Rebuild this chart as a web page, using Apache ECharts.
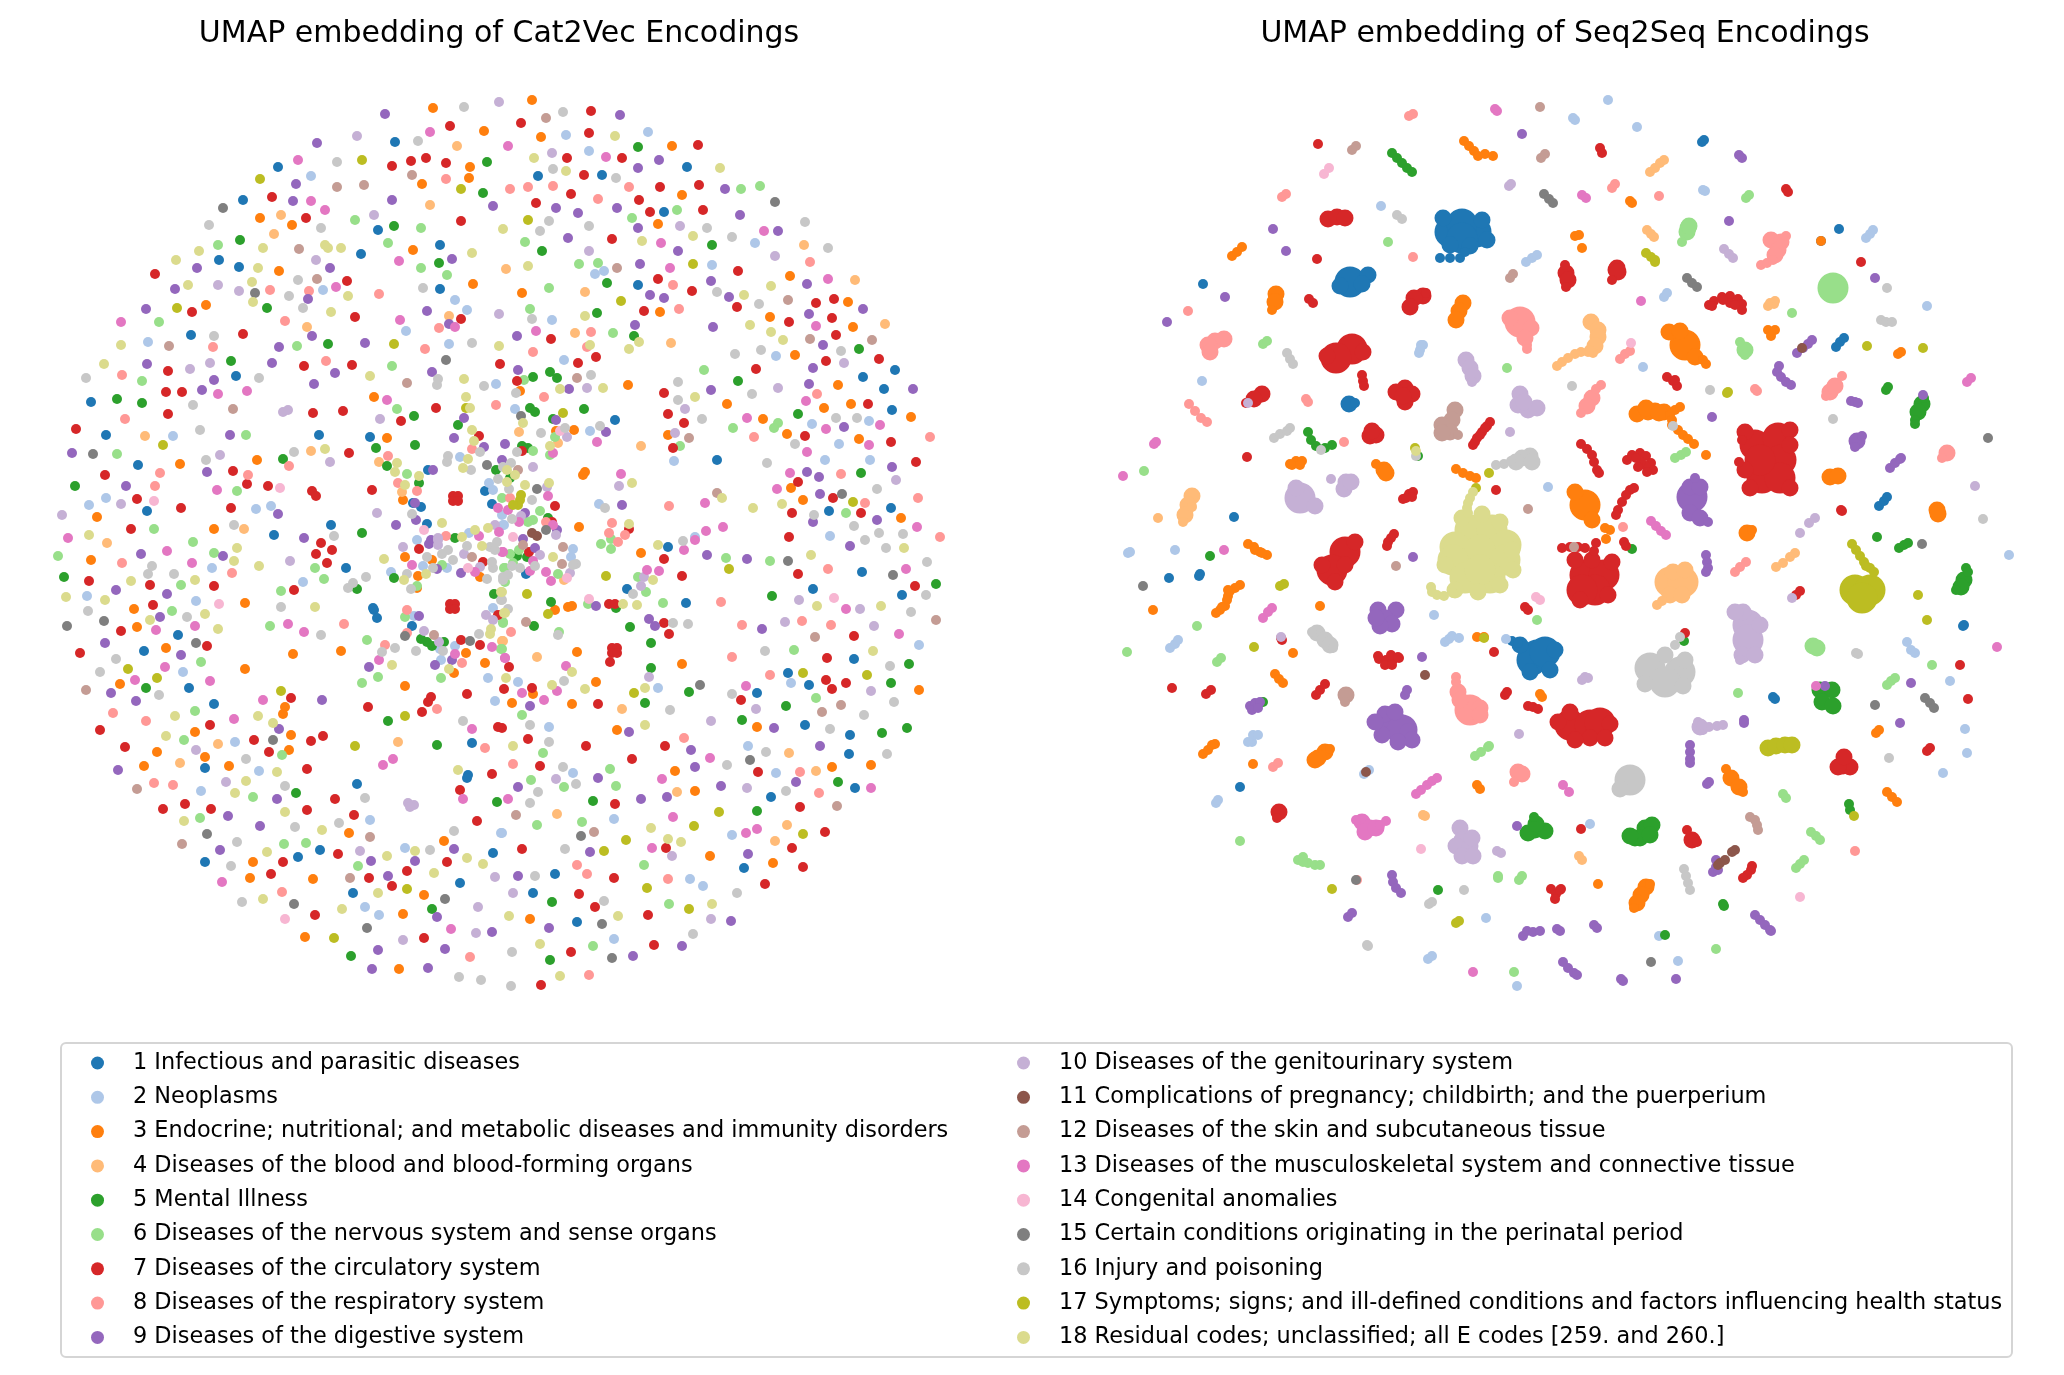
<!DOCTYPE html>
<html>
<head>
<meta charset="utf-8">
<title>UMAP embeddings</title>
<script src="https://cdn.jsdelivr.net/npm/echarts@6/dist/echarts.min.js"></script>
<style>
html, body { margin: 0; background: #fff; }
#main { width: 2064px; height: 1375px; }
</style>
</head>
<body>
<div id="main"></div>
<script>
const categories = [
  "1 Infectious and parasitic diseases",
  "2 Neoplasms",
  "3 Endocrine; nutritional; and metabolic diseases and immunity disorders",
  "4 Diseases of the blood and blood-forming organs",
  "5 Mental Illness",
  "6 Diseases of the nervous system and sense organs",
  "7 Diseases of the circulatory system",
  "8 Diseases of the respiratory system",
  "9 Diseases of the digestive system",
  "10 Diseases of the genitourinary system",
  "11 Complications of pregnancy; childbirth; and the puerperium",
  "12 Diseases of the skin and subcutaneous tissue",
  "13 Diseases of the musculoskeletal system and connective tissue",
  "14 Congenital anomalies",
  "15 Certain conditions originating in the perinatal period",
  "16 Injury and poisoning",
  "17 Symptoms; signs; and ill-defined conditions and factors influencing health status",
  "18 Residual codes; unclassified; all E codes [259. and 260.]"
];
const colors = ["#1f77b4","#aec7e8","#ff7f0e","#ffbb78","#2ca02c","#98df8a","#d62728","#ff9896","#9467bd","#c5b0d5","#8c564b","#c49c94","#e377c2","#f7b6d2","#7f7f7f","#c7c7c7","#bcbd22","#dbdb8d"];

// [x, y, category]
const cat2vecPoints = [
[433,108,3],[464,107,16],[499,102,10],[385,114,9],[450,126,7],[484,131,3],[430,132,13],[357,136,10],[317,143,9],[395,142,1],[418,141,16],[457,146,4],[508,146,13],[298,160,13],[337,162,16],[362,160,17],[426,158,7],[411,161,7],[446,163,7],[487,162,5],[392,166,7],[470,167,3],[278,167,1],[260,179,17],[311,176,2],[412,175,12],[469,178,3],[446,179,8],[296,184,9],[337,187,12],[364,185,12],[422,184,3],[461,189,17],[510,189,8],[483,193,5],[243,200,1],[272,197,7],[293,201,9],[311,201,13],[392,200,9],[430,205,4],[493,206,9],[223,208,15],[325,210,13],[260,218,3],[281,215,4],[306,218,7],[374,215,10],[355,220,6],[461,221,7],[209,225,16],[292,225,3],[321,228,16],[378,230,1],[394,226,5],[421,228,6],[503,229,18],[274,234,4],[240,240,5],[218,245,6],[263,248,18],[299,249,12],[325,245,18],[328,248,18],[341,248,18],[388,243,6],[413,250,3],[440,245,1],[199,251,18],[361,254,1],[472,253,18],[176,260,18],[219,260,1],[316,260,10],[399,261,13],[439,263,5],[452,259,9],[197,268,9],[239,267,1],[258,268,18],[279,271,3],[330,268,9],[421,268,6],[506,269,4],[155,274,7],[447,275,6],[252,282,18],[298,280,16],[317,279,12],[347,281,7],[473,284,3],[175,289,9],[188,285,18],[218,285,10],[239,291,10],[255,293,15],[270,290,8],[309,291,8],[323,290,2],[336,287,13],[379,294,8],[423,288,16],[440,289,1],[253,302,18],[289,296,16],[308,299,9],[348,296,18],[455,300,2],[146,309,9],[177,308,17],[206,305,3],[192,312,7],[267,308,5],[303,308,16],[331,312,18],[427,311,9],[467,310,2],[499,314,10],[121,322,13],[159,322,6],[285,321,8],[355,317,7],[400,320,13],[449,316,4],[461,319,7],[449,324,9],[455,327,13],[191,335,1],[214,336,16],[243,334,7],[307,327,4],[312,336,9],[406,331,2],[439,328,8],[121,345,18],[148,342,2],[169,346,12],[213,347,8],[279,347,9],[297,346,6],[328,344,5],[365,343,9],[394,344,17],[425,349,8],[449,344,2],[472,343,16],[499,346,18],[104,364,18],[147,364,9],[210,363,10],[231,361,5],[272,363,9],[304,366,7],[326,361,8],[352,365,7],[392,366,6],[446,360,15],[500,364,7],[86,378,16],[122,375,8],[168,371,7],[190,369,10],[142,381,6],[236,376,1],[259,378,16],[335,373,9],[370,376,18],[432,372,9],[438,379,16],[437,385,16],[464,379,18],[214,380,9],[407,383,12],[314,384,9],[484,386,16],[496,384,2],[166,392,7],[182,392,7],[202,390,9],[218,394,13],[247,391,13],[374,397,3],[466,397,18],[91,402,1],[117,399,5],[142,403,5],[193,405,16],[387,400,13],[496,405,8],[233,409,12],[283,412,10],[288,410,10],[313,413,7],[343,411,7],[436,408,7],[397,409,6],[466,408,17],[470,408,18],[168,414,7],[125,419,8],[414,416,5],[380,419,10],[464,418,9],[401,421,7],[458,425,5],[76,429,7],[200,430,16],[472,430,18],[106,435,1],[145,436,4],[173,436,2],[230,435,9],[246,435,6],[319,435,1],[370,437,1],[387,438,3],[479,436,7],[454,438,9],[474,441,18],[163,445,17],[415,445,5],[505,444,9],[72,453,9],[93,454,15],[117,454,6],[220,455,10],[294,452,16],[311,451,4],[325,449,18],[349,453,7],[376,448,5],[388,456,8],[484,447,9],[472,449,8],[480,452,16],[138,465,1],[180,464,3],[206,460,16],[257,460,3],[283,459,5],[330,462,10],[379,462,4],[397,463,18],[448,456,16],[447,462,16],[460,457,2],[468,459,18],[502,460,9],[487,465,15],[105,475,7],[160,473,8],[207,472,9],[233,471,7],[289,466,8],[387,466,5],[395,472,18],[428,470,1],[433,470,9],[463,468,18],[471,470,16],[496,470,5],[407,474,6],[248,475,8],[419,476,18],[75,486,5],[126,486,9],[155,486,8],[247,484,7],[268,486,7],[280,488,14],[398,483,8],[405,485,18],[419,483,5],[489,483,2],[498,479,16],[217,490,13],[237,491,6],[312,491,7],[316,496,7],[372,490,7],[402,492,4],[417,491,8],[453,496,7],[458,496,7],[453,501,7],[458,501,7],[485,491,1],[493,490,2],[106,498,2],[137,499,7],[89,505,2],[121,504,10],[154,501,14],[403,500,3],[502,498,6],[181,508,7],[231,508,7],[271,506,2],[413,503,1],[415,503,9],[421,507,1],[492,504,1],[498,508,13],[508,510,13],[62,515,10],[97,517,3],[147,511,1],[256,509,2],[278,514,9],[377,513,10],[412,514,16],[502,515,2],[416,520,9],[131,529,7],[154,529,6],[214,529,3],[234,525,16],[244,529,4],[331,525,1],[396,525,9],[427,524,1],[442,523,18],[362,533,5],[68,538,13],[89,535,18],[274,535,1],[304,538,9],[334,536,16],[424,530,14],[475,530,18],[488,528,18],[495,525,10],[504,525,2],[499,532,13],[469,533,2],[479,536,13],[446,536,8],[462,537,18],[455,538,5],[438,538,10],[431,540,9],[417,540,2],
[532,100,3],[591,111,7],[563,112,16],[620,115,9],[546,118,12],[521,123,7],[566,135,2],[589,133,7],[541,137,3],[615,136,18],[648,132,2],[672,146,3],[698,145,7],[638,147,5],[589,151,2],[552,153,10],[534,158,18],[567,158,7],[606,157,13],[622,158,7],[659,160,9],[638,168,9],[687,167,1],[720,168,18],[553,169,16],[566,171,18],[538,176,1],[584,175,7],[602,175,1],[616,178,16],[528,187,8],[553,186,8],[629,187,8],[660,187,7],[699,185,7],[725,189,9],[741,189,6],[760,186,6],[571,194,7],[682,195,3],[598,199,8],[639,200,7],[775,202,15],[536,203,7],[556,208,9],[578,213,9],[617,208,9],[650,212,7],[664,212,1],[677,210,6],[703,210,7],[740,215,9],[632,218,6],[528,220,17],[549,221,16],[805,222,16],[540,231,16],[589,226,16],[638,228,9],[658,224,3],[680,226,10],[707,228,16],[764,231,13],[778,231,9],[525,242,6],[568,238,9],[612,239,7],[642,241,18],[661,243,13],[693,236,18],[712,245,5],[732,237,16],[755,243,2],[804,245,4],[828,248,16],[542,251,5],[589,251,10],[678,251,9],[775,256,10],[810,262,8],[528,266,18],[579,264,6],[598,263,6],[617,268,12],[640,264,9],[670,268,13],[693,264,17],[712,265,2],[738,271,7],[595,274,2],[604,271,2],[790,276,3],[658,279,7],[855,280,4],[828,279,13],[807,284,9],[549,288,6],[607,283,5],[638,285,1],[673,285,8],[711,281,9],[771,286,18],[692,291,7],[522,293,3],[585,292,4],[650,295,9],[664,298,9],[717,292,16],[729,297,9],[744,295,18],[788,300,12],[816,303,7],[834,299,7],[848,302,3],[863,309,9],[621,301,17],[759,304,16],[737,307,7],[530,309,6],[597,313,5],[644,311,7],[660,312,3],[679,309,8],[809,314,9],[532,319,16],[552,320,2],[585,316,18],[770,317,3],[832,318,7],[789,322,7],[885,324,4],[635,325,9],[713,327,9],[750,325,18],[816,326,13],[853,327,3],[517,336,9],[536,331,13],[575,333,4],[591,332,8],[613,333,6],[634,336,5],[551,339,7],[771,332,18],[836,335,7],[639,342,18],[671,343,4],[783,340,18],[810,339,12],[872,340,12],[533,352,8],[587,347,8],[590,345,18],[629,349,18],[735,354,16],[761,350,16],[776,356,2],[795,355,3],[823,345,9],[841,351,16],[859,349,5],[564,360,2],[578,363,7],[596,357,7],[826,361,7],[844,363,10],[879,359,7],[756,369,7],[704,370,6],[813,368,9],[895,370,1],[518,370,9],[550,372,5],[533,377,5],[557,378,5],[524,380,6],[517,381,7],[591,375,16],[577,378,12],[863,377,1],[628,385,3],[678,382,16],[738,381,5],[809,384,9],[838,385,3],[884,389,1],[913,389,9],[560,389,18],[569,389,9],[587,388,10],[603,388,18],[520,391,3],[516,393,16],[544,397,8],[664,393,7],[711,390,9],[778,388,10],[817,394,8],[752,394,16],[678,400,16],[695,397,18],[806,401,13],[727,404,3],[824,408,3],[851,404,3],[868,404,7],[515,409,2],[530,408,5],[535,412,5],[563,413,17],[584,409,5],[685,409,10],[892,410,1],[521,416,15],[668,414,7],[798,414,5],[911,417,3],[523,423,18],[553,419,5],[556,420,9],[615,420,1],[684,423,7],[702,419,16],[747,418,13],[763,419,3],[778,423,6],[774,428,6],[812,424,2],[836,418,16],[857,418,16],[869,421,2],[880,425,13],[519,432,4],[541,433,16],[556,431,3],[565,428,16],[560,431,14],[574,430,3],[590,431,2],[600,426,16],[606,432,9],[675,433,10],[668,435,3],[689,438,12],[733,428,6],[826,429,13],[844,427,9],[787,434,3],[805,436,7],[754,437,8],[930,437,8],[555,437,6],[567,437,10],[558,443,4],[597,442,13],[641,446,4],[680,446,6],[673,448,7],[522,446,5],[528,448,5],[522,451,7],[517,452,16],[533,451,6],[550,446,18],[553,453,13],[550,455,6],[795,444,16],[839,444,2],[859,439,3],[869,445,13],[891,442,7],[807,452,13],[674,461,2],[717,460,1],[767,463,16],[825,460,2],[870,460,2],[916,462,7],[533,467,10],[511,463,16],[503,467,16],[518,470,12],[515,475,18],[507,470,18],[510,478,5],[585,472,3],[583,475,3],[621,474,13],[790,473,13],[807,472,9],[819,477,9],[841,474,8],[861,473,5],[892,467,9],[896,480,10],[798,482,7],[549,483,18],[507,482,18],[525,485,18],[632,483,18],[619,486,10],[777,489,13],[791,488,3],[877,489,16],[537,489,15],[509,489,16],[547,487,10],[717,493,12],[820,494,9],[842,494,15],[833,498,7],[722,498,18],[521,495,17],[520,500,17],[518,505,17],[513,505,17],[532,500,16],[548,496,13],[510,498,8],[918,498,8],[669,506,8],[705,503,13],[753,508,18],[782,504,18],[803,500,3],[853,502,17],[865,503,8],[891,508,1],[555,506,7],[599,504,2],[605,508,16],[622,505,9],[792,513,7],[814,515,16],[829,511,1],[846,513,6],[861,513,7],[901,518,3],[877,520,9],[540,511,6],[533,520,6],[528,522,6],[525,513,9],[521,516,10],[548,518,5],[813,522,9],[512,519,16],[519,522,13],[546,522,8],[553,525,13],[552,522,7],[557,530,9],[579,527,3],[612,523,8],[629,524,18],[629,529,7],[723,527,13],[706,531,13],[854,526,16],[917,527,13],[546,530,15],[503,525,2],[513,537,14],[532,533,11],[537,536,11],[523,539,9],[609,533,8],[625,535,8],[611,539,6],[556,535,10],[683,541,16],[695,537,2],[695,540,13],[789,537,7],[830,536,2],[865,540,16],[879,533,16],[903,534,16],[940,537,8],
[601,544,6],[618,542,8],[611,549,6],[641,553,3],[658,545,18],[668,547,1],[684,550,13],[664,559,7],[707,555,9],[726,558,6],[747,559,9],[770,561,6],[788,561,15],[811,555,18],[850,546,9],[886,548,16],[904,548,18],[927,562,16],[729,569,17],[798,574,7],[828,569,8],[862,572,1],[893,575,15],[906,569,13],[915,586,7],[936,584,5],[647,570,13],[659,571,13],[682,576,7],[638,577,6],[644,577,10],[653,580,18],[641,586,10],[627,589,1],[633,594,16],[646,592,6],[813,589,1],[606,576,17],[553,557,18],[563,547,12],[573,549,2],[571,557,2],[562,564,12],[576,564,16],[573,565,16],[570,573,10],[546,572,13],[558,574,6],[551,581,13],[564,580,4],[567,578,14],[533,561,13],[540,555,10],[529,552,7],[535,548,9],[517,556,5],[527,557,5],[519,550,6],[510,554,6],[503,552,13],[523,545,12],[513,563,6],[535,566,16],[520,568,16],[512,566,16],[530,571,13],[526,574,1],[505,568,6],[503,577,16],[508,575,16],[505,582,6],[527,594,17],[502,592,18],[502,600,16],[551,602,5],[555,610,3],[548,614,17],[568,607,3],[572,606,3],[589,599,14],[588,604,6],[596,606,9],[609,604,7],[615,604,7],[616,608,5],[623,604,18],[637,605,18],[663,603,6],[686,603,1],[721,602,8],[772,596,5],[799,600,10],[817,606,18],[834,598,14],[846,609,13],[860,609,10],[881,606,18],[902,595,1],[926,595,16],[911,612,16],[936,620,12],[508,609,16],[504,613,18],[503,622,6],[526,622,12],[534,626,5],[511,632,8],[559,632,6],[558,635,16],[503,641,4],[630,627,5],[649,619,9],[655,626,9],[664,623,7],[673,623,16],[688,624,16],[669,634,7],[742,625,8],[762,629,9],[785,622,10],[802,621,8],[831,625,8],[874,626,10],[899,634,13],[815,637,12],[854,636,7],[919,645,2],[651,643,5],[577,652,3],[612,648,7],[617,648,7],[612,653,7],[617,653,7],[765,651,16],[794,650,6],[873,651,18],[854,659,1],[827,658,7],[909,664,5],[890,666,16],[502,649,6],[505,658,13],[537,657,4],[610,662,7],[682,664,3],[732,657,8],[509,667,7],[566,666,13],[572,672,18],[651,668,5],[770,675,8],[788,673,1],[803,673,17],[826,680,7],[846,683,7],[867,675,17],[891,683,5],[919,690,3],[649,677,10],[506,678,18],[518,682,2],[564,681,16],[596,682,3],[552,685,18],[532,688,7],[504,689,7],[522,693,13],[533,694,3],[557,691,13],[585,689,18],[634,693,17],[645,688,18],[658,688,2],[700,685,15],[689,692,5],[746,686,13],[757,693,1],[732,694,16],[791,683,2],[809,685,1],[832,689,7],[871,691,10],[512,703,3],[544,700,13],[530,706,9],[572,704,3],[598,704,7],[645,703,5],[622,709,4],[670,710,16],[741,700,7],[756,709,10],[786,706,5],[816,698,6],[841,705,12],[822,712,12],[894,702,16],[522,715,6],[864,715,16],[711,721,10],[742,720,5],[502,728,7],[530,725,16],[549,727,2],[617,730,3],[629,732,9],[645,725,18],[757,727,3],[774,728,9],[805,725,1],[830,729,16],[850,735,1],[882,733,5],[907,728,5],[528,739,7],[549,742,16],[586,746,7],[665,746,7],[684,738,8],[691,750,9],[748,746,2],[789,753,4],[820,746,9],[849,754,1],[887,754,16],[766,752,16],[513,746,18],[543,753,6],[632,759,7],[710,758,13],[750,760,15],[513,764,8],[540,766,7],[563,767,16],[573,773,2],[610,769,6],[675,771,3],[695,767,9],[727,765,16],[758,772,7],[776,773,2],[800,772,8],[816,771,4],[832,767,3],[871,765,3],[531,780,6],[556,779,10],[576,784,16],[598,778,9],[662,779,13],[796,782,9],[838,782,5],[518,787,9],[564,787,6],[616,786,6],[721,786,9],[747,788,10],[855,788,1],[871,788,13],[538,792,16],[677,792,4],[695,791,3],[786,791,16],[819,793,8],[508,799,13],[530,803,16],[593,801,5],[641,799,9],[667,797,9],[771,797,1],[615,804,7],[800,807,7],[837,806,12],[516,815,12],[557,814,4],[614,819,2],[673,817,13],[719,812,17],[757,811,5],[537,825,6],[582,822,6],[694,826,17],[787,825,4],[502,833,2],[594,832,12],[651,828,18],[732,835,2],[746,833,13],[757,829,13],[803,834,17],[825,832,7],[581,836,15],[626,840,17],[668,839,18],[681,842,18],[775,841,4],[522,849,7],[565,849,16],[590,852,9],[604,851,17],[652,848,13],[666,848,7],[792,848,7],[672,856,10],[710,856,3],[748,854,9],[773,863,3],[577,865,8],[644,865,6],[555,874,1],[587,874,8],[744,868,1],[803,867,7],[518,876,9],[535,876,16],[614,878,7],[668,879,8],[690,879,2],[765,884,7],[513,893,10],[533,893,1],[579,894,7],[647,888,17],[703,886,2],[737,893,16],[552,902,5],[604,901,16],[595,907,7],[669,904,6],[689,909,17],[712,904,18],[509,916,18],[530,919,3],[618,916,18],[648,915,7],[711,919,10],[731,921,9],[549,928,9],[577,922,1],[602,924,15],[693,934,16],[614,939,2],[540,944,18],[593,946,6],[654,945,7],[682,946,9],[512,952,16],[571,952,7],[550,960,5],[612,958,15],[633,956,9],[560,976,18],[589,975,8],[511,986,16],[541,985,7],
[58,556,6],[91,560,3],[107,543,4],[141,554,9],[167,551,13],[122,563,8],[193,542,6],[214,553,6],[223,556,9],[237,548,18],[234,561,18],[192,563,13],[152,566,16],[148,574,16],[174,574,16],[212,568,2],[232,573,8],[259,566,18],[290,561,10],[321,543,7],[332,550,7],[316,554,7],[327,563,7],[315,568,6],[346,568,1],[64,577,5],[89,581,7],[131,581,18],[150,585,7],[181,585,6],[195,580,18],[214,586,7],[303,582,2],[324,579,6],[366,577,16],[353,583,16],[348,588,16],[357,589,5],[281,591,6],[294,590,7],[116,590,9],[167,594,9],[66,597,18],[87,596,2],[105,600,18],[196,601,2],[219,604,14],[245,603,3],[153,605,7],[134,609,3],[88,611,16],[172,611,6],[281,607,16],[315,607,18],[205,614,18],[160,617,9],[150,620,18],[187,617,16],[104,621,15],[67,626,15],[137,627,3],[121,631,7],[156,630,13],[195,626,13],[218,629,18],[270,626,6],[288,624,13],[344,624,8],[304,632,13],[321,635,16],[178,635,1],[105,643,9],[196,643,15],[207,646,7],[166,648,3],[80,653,7],[144,651,1],[181,655,9],[293,654,3],[341,651,3],[367,640,6],[116,659,16],[201,662,6],[128,669,17],[100,672,16],[165,667,13],[183,672,2],[245,669,3],[135,680,13],[157,678,17],[120,684,3],[146,688,5],[86,690,12],[111,693,9],[189,688,1],[210,681,13],[159,695,16],[136,701,9],[281,691,17],[291,698,7],[263,700,13],[322,700,9],[285,707,3],[283,714,3],[214,704,1],[113,713,8],[195,711,6],[175,716,18],[146,721,8],[234,719,13],[258,716,18],[273,723,18],[210,725,7],[100,730,7],[279,729,9],[195,732,3],[166,736,18],[184,740,6],[291,735,3],[323,736,7],[311,741,7],[254,740,7],[273,740,15],[218,744,4],[235,742,2],[125,747,7],[157,752,3],[196,750,10],[269,752,7],[289,750,3],[282,755,6],[355,746,17],[205,757,3],[180,763,4],[246,759,16],[398,742,4],[437,745,5],[118,770,9],[144,766,3],[205,768,1],[229,766,3],[259,771,2],[277,772,18],[307,769,7],[383,765,13],[393,759,13],[154,783,8],[173,785,8],[137,789,12],[226,782,10],[246,781,18],[285,786,16],[357,784,1],[201,791,2],[235,793,18],[253,797,6],[277,799,9],[296,793,5],[335,799,7],[365,798,16],[163,809,7],[185,804,7],[211,809,7],[307,810,7],[285,812,18],[354,815,7],[408,803,10],[414,805,10],[410,807,10],[200,818,6],[184,821,18],[228,816,9],[260,826,9],[295,827,16],[322,830,18],[339,823,16],[370,820,2],[349,833,3],[370,837,12],[207,834,15],[182,844,12],[237,842,16],[284,844,6],[306,843,6],[220,850,9],[267,852,18],[320,850,1],[338,854,7],[360,851,10],[387,856,18],[405,848,2],[415,851,18],[430,850,16],[298,857,1],[205,862,1],[231,866,16],[253,862,3],[283,862,7],[358,866,6],[371,861,9],[415,861,9],[447,862,7],[271,874,7],[250,878,3],[222,882,13],[313,879,3],[350,878,12],[369,878,7],[388,876,9],[407,871,7],[434,873,18],[392,886,7],[407,889,17],[460,883,1],[282,892,8],[353,893,1],[378,893,18],[424,895,3],[263,899,18],[242,902,16],[294,904,15],[445,899,15],[342,909,18],[365,907,2],[379,915,2],[403,914,3],[432,909,5],[437,917,9],[315,915,7],[285,919,14],[478,907,10],[367,928,15],[451,929,13],[305,937,3],[334,938,17],[403,940,10],[424,938,7],[476,933,10],[492,932,9],[351,956,5],[378,950,9],[445,949,9],[470,957,8],[372,969,9],[399,969,3],[428,968,9],[459,977,16],[481,980,16],[454,831,16],[444,841,3],[454,849,9],[467,858,18],[483,864,18],[493,853,1],[501,833,2],[477,821,7],[495,877,10],[492,774,7],[468,775,1],[467,778,1],[458,770,18],[460,790,7],[463,799,13],[497,802,5],[472,743,1],[485,748,8],[472,729,13],[463,721,16],[498,727,7],[495,701,2],[437,709,8],[422,712,7],[428,702,7],[431,697,7],[467,694,7],[405,716,17],[388,721,5],[368,707,7],[405,686,3],[362,683,6],[378,677,6],[369,667,9],[392,665,18],[379,660,13],[382,652,16],[385,645,8],[395,648,16],[416,651,16],[435,665,9],[441,660,2],[441,678,6],[449,669,18],[454,673,3],[462,663,8],[485,663,3],[488,678,2],[466,653,3],[455,654,13],[452,660,9],[455,646,2],[443,651,16],[440,649,2],[501,649,6],[492,647,13],[505,658,13],[502,641,4],[480,645,7],[470,641,15],[461,640,7],[479,634,16],[444,642,5],[432,646,5],[427,642,5],[421,639,5],[439,642,10],[434,635,12],[424,631,10],[405,636,15],[407,633,8],[412,626,1],[405,617,6],[407,610,8],[414,616,2],[419,616,9],[374,610,1],[377,618,1],[373,608,1],[450,604,7],[455,604,7],[450,609,7],[455,609,7],[486,615,10],[493,620,10],[498,615,7],[505,613,18],[503,623,6],[491,629,18],[490,634,18],[493,608,2],[501,592,18],[501,600,16],[494,594,5],[487,579,16],[503,580,16],[493,568,16],[492,562,16],[497,542,16],[490,547,16],[495,550,16],[504,568,6],[502,552,13],[475,572,13],[468,568,14],[461,573,9],[480,567,10],[483,562,7],[480,577,3],[464,554,10],[472,557,12],[482,546,18],[467,546,16],[453,560,16],[448,550,16],[442,554,16],[427,557,16],[433,568,16],[442,565,6],[447,568,2],[437,569,9],[423,566,2],[412,565,13],[405,557,3],[419,549,7],[403,547,10],[384,559,18],[429,544,9],[438,540,10],[438,545,10],[432,560,3],[418,576,3],[391,572,2],[394,578,5],[407,574,16],[404,580,18],[426,574,18],[417,586,6],[411,589,16],[417,588,3]
];

const seqSmall = [
[1409,116,8],[1413,114,8],[1495,109,13],[1497,111,13],[1540,107,12],[1522,134,9],[1318,144,7],[1352,150,12],[1356,146,12],[1392,153,5],[1397,158,5],[1402,163,5],[1407,168,5],[1412,172,5],[1464,141,3],[1469,146,3],[1474,151,3],[1478,156,3],[1485,154,3],[1493,156,3],[1541,158,12],[1545,154,12],[1324,174,14],[1329,168,14],[1509,186,10],[1511,184,10],[1544,194,15],[1549,199,15],[1553,203,15],[1282,197,8],[1286,194,8],[1381,206,2],[1397,215,16],[1402,219,16],[1273,229,9],[1388,242,6],[1286,251,9],[1317,259,7],[1413,257,8],[1232,256,3],[1237,252,3],[1242,247,3],[1526,262,2],[1532,258,2],[1537,255,2],[1510,278,12],[1513,274,12],[1203,284,1],[1225,297,9],[1309,299,7],[1313,303,7],[1188,311,8],[1167,322,9],[1263,344,6],[1267,341,6],[1287,353,16],[1290,359,16],[1293,364,16],[1507,368,6],[1202,381,2],[1306,399,8],[1308,402,8],[1189,404,8],[1195,411,8],[1201,418,8],[1207,422,8],[1154,444,13],[1156,442,13],[1247,457,7],[1144,471,6],[1123,476,13],[1510,432,10],[1274,438,16],[1280,434,16],[1287,431,16],[1290,428,16],[1308,432,5],[1311,440,5],[1316,446,5],[1325,448,5],[1332,445,5],[1321,450,16],[1344,442,8],[1415,448,17],[1418,456,5],[1416,451,18],[1416,456,16],[1456,469,3],[1463,473,3],[1470,476,3],[1476,478,3],[1489,473,17],[1476,488,17],[1496,490,7],[1548,487,2],[1158,518,4],[1234,517,1],[1528,509,12],[1248,403,10],[1331,479,10],
[1440,258,1],[1450,258,1],[1460,258,1],[1465,252,1],[1362,375,7],[1363,381,7],[1364,386,7],[1423,345,2],[1421,345,2],[1420,350,2],[1419,353,2],[1472,382,10],[1527,345,8],[1527,349,8],[1272,310,3],[1426,293,7],[1246,403,7],[1355,403,1],[1458,435,12],[1473,445,7],[1477,438,7],[1482,432,7],[1487,426,7],[1490,422,7],[1475,442,7],[1480,435,7],[1485,428,7],[1504,464,16],[1496,465,16],[1511,461,16],[1290,464,3],[1296,461,3],[1302,461,3],[1292,465,3],[1300,465,3],[1376,464,3],[1403,499,7],[1409,494,7],[1413,492,7],[1412,497,7],[1406,498,7],[1183,522,4],[1192,507,4],[1473,492,18],[1470,498,18],[1468,503,18],[1467,508,18],[1468,513,18],[1431,587,18],[1432,592,18],[1437,595,18],[1444,596,18],[1453,593,18],
[1128,553,2],[1130,552,2],[1175,550,2],[1210,556,5],[1224,550,13],[1248,544,3],[1254,547,3],[1260,552,3],[1267,555,3],[1255,550,3],[1262,553,3],[1143,586,15],[1169,578,1],[1199,576,1],[1200,574,1],[1240,585,3],[1235,588,3],[1228,590,3],[1228,596,3],[1230,591,3],[1227,600,3],[1225,606,3],[1220,610,3],[1216,613,3],[1222,607,3],[1280,586,17],[1284,584,17],[1153,610,3],[1320,606,3],[1263,618,13],[1268,612,13],[1272,608,13],[1394,534,7],[1391,538,7],[1388,542,7],[1387,546,7],[1413,557,9],[1396,566,12],[1434,615,2],[1536,597,14],[1540,600,14],[1525,607,7],[1528,610,7],[1537,620,6],[1197,626,6],[1170,648,2],[1175,644,2],[1178,640,2],[1127,652,6],[1254,647,17],[1281,638,7],[1282,640,7],[1281,637,10],[1312,632,16],[1333,648,16],[1293,653,3],[1217,662,6],[1221,658,6],[1445,642,2],[1449,639,2],[1452,636,2],[1459,638,2],[1477,637,3],[1484,637,3],[1484,638,17],[1506,639,2],[1512,641,1],[1518,643,1],[1494,652,7],[1379,659,7],[1386,660,7],[1393,660,7],[1399,658,7],[1385,665,7],[1392,665,7],[1378,656,7],[1391,655,7],[1398,657,7],[1422,657,9],[1425,675,11],[1275,674,3],[1279,679,3],[1283,683,3],[1316,695,7],[1320,690,7],[1325,684,7],[1206,694,7],[1211,690,7],[1172,688,7],[1345,702,12],[1405,695,9],[1407,690,9],[1456,677,8],[1456,682,8],[1505,695,7],[1507,692,7],[1540,694,3],[1542,697,3],[1528,706,7],[1533,707,7],[1538,709,7],[1250,706,9],[1255,703,9],[1260,702,9],[1252,710,9],[1258,708,9],[1263,702,5],[1519,734,10],[1252,742,2],[1253,735,2],[1248,742,2],[1258,735,2],[1253,764,3],[1203,754,3],[1208,750,3],[1212,745,3],[1215,744,3],[1330,749,3],[1273,767,8],[1278,763,8],[1364,774,2],[1369,770,2],[1366,772,11],[1475,756,6],[1481,752,6],[1488,747,6],[1489,746,6],[1514,782,8],[1477,785,3],[1480,789,3],[1416,794,13],[1421,790,13],[1427,785,13],[1432,781,13],[1437,778,13],[1240,787,1],[1216,803,2],[1218,800,2],[1277,818,7],[1386,821,13],[1380,825,13],[1356,820,13],[1423,815,4],[1425,816,4],[1534,817,5],[1517,826,9],[1421,849,14],[1497,851,10],[1501,853,10],[1240,841,6],[1298,860,6],[1303,857,6],[1308,863,6],[1315,865,6],[1320,865,6],[1303,862,6],[1357,880,8],[1356,880,15],[1332,889,17],[1392,875,9],[1393,882,9],[1396,888,9],[1401,893,9],[1438,890,5],[1464,890,16],[1498,876,6],[1498,878,6],[1519,880,6],[1522,876,6],[1551,889,7],[1561,889,7],[1556,894,7],[1555,899,7],[1429,904,16],[1432,902,16],[1348,917,9],[1352,913,9],[1456,923,17],[1459,921,17],[1486,918,2],[1523,936,9],[1527,931,9],[1533,932,9],[1540,931,9],[1557,929,9],[1560,931,9],[1367,945,16],[1368,946,16],[1428,959,2],[1432,956,2],[1473,972,13],[1514,972,6],[1517,986,2],[1563,962,9],[1568,968,9],[1574,973,9],[1577,975,9],
[1608,100,2],[1573,118,2],[1575,120,2],[1637,127,2],[1600,148,7],[1602,153,7],[1702,142,1],[1704,140,1],[1739,155,9],[1742,158,9],[1650,172,4],[1655,168,4],[1660,163,4],[1664,160,4],[1612,188,8],[1615,184,8],[1582,195,13],[1586,198,13],[1630,201,3],[1632,203,3],[1659,196,8],[1703,190,2],[1705,191,2],[1746,198,6],[1749,195,6],[1786,189,7],[1788,192,7],[1575,236,3],[1579,235,3],[1582,248,3],[1647,230,4],[1651,234,4],[1654,237,4],[1682,242,6],[1729,221,9],[1839,229,1],[1866,238,2],[1870,234,2],[1873,230,2],[1821,241,1],[1821,241,3],[1724,249,10],[1729,254,10],[1733,258,10],[1761,265,8],[1767,263,8],[1773,260,8],[1786,236,8],[1646,253,17],[1651,257,17],[1655,260,17],[1655,262,17],[1861,262,7],[1875,278,9],[1887,288,16],[1612,280,7],[1565,265,7],[1566,287,7],[1687,278,15],[1692,283,15],[1697,287,15],[1641,301,13],[1664,297,2],[1667,293,2],[1709,305,7],[1714,301,7],[1722,297,7],[1730,296,7],[1738,299,7],[1742,304,7],[1742,310,7],[1730,303,7],[1735,305,7],[1723,300,7],[1712,306,7],[1770,303,4],[1775,301,4],[1774,304,4],[1768,306,4],[1792,313,6],[1927,306,2],[1881,320,16],[1886,322,16],[1892,322,16],[1593,353,4],[1588,352,4],[1581,352,4],[1575,354,4],[1568,358,4],[1562,362,4],[1557,366,4],[1589,350,4],[1631,343,14],[1620,359,8],[1625,354,8],[1630,351,8],[1643,367,2],[1703,360,3],[1706,364,3],[1768,330,3],[1775,330,3],[1771,336,3],[1745,355,6],[1740,342,6],[1797,353,9],[1803,348,9],[1808,344,9],[1812,340,9],[1802,348,11],[1836,347,1],[1840,342,1],[1844,338,1],[1867,346,17],[1898,354,3],[1901,352,3],[1923,348,17],[1967,382,13],[1971,378,13],[1667,377,7],[1673,381,7],[1677,386,7],[1675,380,7],[1572,386,16],[1601,385,8],[1596,389,8],[1581,413,8],[1710,390,16],[1727,393,17],[1728,392,17],[1755,389,8],[1757,391,8],[1779,366,9],[1777,372,9],[1781,377,9],[1786,382,9],[1791,385,9],[1842,376,8],[1826,396,8],[1851,401,9],[1855,402,9],[1858,403,9],[1886,390,5],[1888,387,5],[1915,420,5],[1915,424,5],[1924,398,5],[1923,395,9],[1675,410,3],[1680,407,3],[1670,415,3],[1712,417,9],[1833,419,16],[1672,420,3],[1672,425,3],[1678,430,3],[1683,435,3],[1688,439,3],[1673,426,16],[1694,444,3],[1706,455,3],[1675,458,6],[1681,455,6],[1686,452,6],[1742,440,7],[1739,462,7],[1855,447,9],[1862,436,9],[1942,458,8],[1988,438,15],[1890,468,9],[1895,463,9],[1900,459,9],[1901,458,9],[1975,486,10],[1879,506,1],[1884,501,1],[1887,497,1],[1841,510,7],[1842,511,7],[1983,519,16],[1581,444,7],[1587,449,7],[1592,455,7],[1594,462,7],[1597,470,7],[1599,473,7],[1627,460,7],[1632,455,7],[1640,453,7],[1646,456,7],[1651,463,7],[1653,470,7],[1646,466,7],[1641,462,7],[1636,458,7],[1647,472,7],[1638,467,7],[1605,528,3],[1610,530,3],[1634,488,7],[1630,490,7],[1626,495,7],[1622,502,7],[1618,510,7],[1616,515,7],[1695,478,9],[1708,522,9],[1651,521,13],[1656,526,13],[1661,531,13],[1666,535,13],[1623,527,8],[1606,539,3],[1624,542,7],[1626,546,7],[1632,549,5],[1752,530,3],[1809,523,10],[1815,518,10],[1800,533,10],[1877,537,5],[1899,548,5],[1904,545,5],[1908,543,5],[1922,544,15],[2009,555,2],
[1596,543,7],[1562,548,7],[1570,547,7],[1578,547,7],[1585,548,7],[1574,547,12],[1594,551,7],[1706,555,9],[1707,562,9],[1708,568,9],[1706,572,9],[1657,605,4],[1662,601,4],[1735,572,8],[1740,567,8],[1746,562,8],[1776,567,4],[1783,563,4],[1790,557,4],[1795,553,4],[1852,544,17],[1856,550,17],[1860,556,17],[1864,562,17],[1870,568,17],[1874,572,17],[1866,566,17],[1966,568,5],[1968,572,5],[1956,590,5],[1918,595,17],[1927,620,17],[1963,626,1],[1964,625,1],[1997,647,13],[1796,595,7],[1800,591,7],[1792,598,10],[1907,642,2],[1911,650,2],[1915,653,2],[1856,653,16],[1858,654,16],[1932,665,6],[1960,665,7],[1950,681,2],[1911,683,9],[1887,685,6],[1891,681,6],[1895,678,6],[1925,698,15],[1930,703,15],[1934,708,15],[1968,699,7],[1875,705,15],[1900,723,9],[1965,729,2],[1876,733,3],[1879,730,3],[1927,751,7],[1930,748,7],[1967,753,2],[1889,758,16],[1943,773,2],[1887,792,3],[1892,797,3],[1897,802,3],[1680,637,16],[1675,645,16],[1685,633,7],[1684,641,5],[1740,660,10],[1585,677,10],[1588,678,10],[1582,680,10],[1738,693,6],[1773,697,1],[1775,699,1],[1816,686,13],[1825,686,9],[1744,720,9],[1744,723,9],[1698,722,10],[1703,730,10],[1709,727,10],[1717,726,10],[1723,725,10],[1702,725,10],[1690,745,9],[1690,752,9],[1690,759,9],[1690,763,9],[1563,785,13],[1569,792,13],[1707,784,9],[1709,782,9],[1726,769,3],[1743,792,3],[1783,794,6],[1786,798,6],[1849,804,5],[1850,810,5],[1854,816,17],[1590,824,2],[1581,829,7],[1687,830,7],[1697,842,7],[1750,817,12],[1755,820,12],[1757,825,12],[1758,830,12],[1811,832,6],[1816,836,6],[1820,840,6],[1855,851,8],[1579,856,4],[1582,860,4],[1796,868,6],[1800,864,6],[1804,860,6],[1735,850,11],[1732,852,11],[1725,860,11],[1720,863,11],[1718,865,11],[1716,860,9],[1716,867,9],[1713,872,9],[1718,870,9],[1752,866,7],[1751,870,7],[1747,875,7],[1743,878,7],[1684,869,16],[1686,876,16],[1688,883,16],[1690,890,16],[1598,884,3],[1560,890,7],[1634,908,3],[1650,884,3],[1723,904,5],[1724,906,5],[1800,897,14],[1755,915,9],[1760,920,9],[1765,925,9],[1770,930,9],[1771,931,9],[1594,925,9],[1597,928,9],[1659,936,2],[1665,935,5],[1716,949,6],[1651,962,15],[1678,961,2],[1621,979,9],[1623,981,9],[1676,979,9]
];

const seqMid = [
[1328,219,7],[1337,217,7],[1345,218,7],[1368,275,1],[1340,286,1],[1362,284,1],[1276,294,3],[1275,302,3],[1423,296,7],[1414,298,7],[1410,307,7],[1463,303,3],[1459,311,3],[1456,320,3],[1510,318,8],[1531,328,8],[1525,338,8],[1215,341,8],[1224,339,8],[1208,345,8],[1210,352,8],[1363,352,7],[1327,356,7],[1466,360,10],[1470,368,10],[1473,376,10],[1405,388,7],[1412,394,7],[1396,392,7],[1405,402,7],[1403,396,7],[1262,394,7],[1254,399,7],[1349,404,1],[1455,410,12],[1452,420,12],[1442,425,12],[1450,432,12],[1442,433,12],[1520,394,10],[1518,405,10],[1528,410,10],[1537,408,10],[1524,402,10],[1370,436,7],[1376,435,7],[1372,431,7],[1530,456,16],[1522,458,16],[1516,462,16],[1532,462,16],[1384,470,3],[1386,473,3],[1346,482,10],[1344,489,10],[1351,482,10],[1315,506,10],[1296,488,10],[1192,496,4],[1188,505,4],[1185,515,4],
[1396,610,9],[1378,610,9],[1385,618,9],[1392,624,9],[1380,626,9],[1376,618,9],[1317,633,16],[1325,640,16],[1330,645,16],[1346,695,12],[1458,692,8],[1460,700,8],[1480,708,8],[1480,715,8],[1355,542,7],[1322,565,7],[1345,565,7],[1335,582,7],[1385,714,9],[1395,712,9],[1408,732,9],[1325,752,3],[1318,758,3],[1315,760,3],[1518,772,8],[1522,774,8],[1279,812,7],[1362,822,13],[1370,828,13],[1365,832,13],[1376,828,13],[1460,828,10],[1462,840,10],[1456,846,10],[1470,846,10],[1462,856,10],[1473,856,10],[1472,838,10],[1535,830,5],[1545,831,5],[1528,833,5],[1536,824,5],
[1688,228,6],[1687,232,6],[1689,226,6],[1771,240,8],[1781,242,8],[1778,250,8],[1775,255,8],[1616,270,7],[1617,268,7],[1618,272,7],[1566,273,7],[1568,280,7],[1591,322,4],[1598,330,4],[1598,337,4],[1595,346,4],[1669,332,3],[1680,331,3],[1695,357,3],[1745,350,6],[1592,398,8],[1587,406,8],[1830,392,8],[1835,386,8],[1922,404,5],[1918,412,5],[1637,414,3],[1648,412,3],[1655,411,3],[1646,408,3],[1664,412,3],[1659,413,3],[1857,441,9],[1947,453,8],[1830,477,3],[1838,476,3],[1937,510,3],[1938,514,3],[1575,492,3],[1592,520,3],[1690,513,9],[1700,518,9],[1690,487,9],[1700,487,9],[1747,533,3],
[1592,560,7],[1673,572,4],[1685,570,4],[1670,595,4],[1682,595,4],[1964,580,5],[1961,587,5],[1813,646,6],[1817,648,6],[1665,655,16],[1743,612,10],[1742,655,10],[1820,690,5],[1832,690,5],[1822,702,5],[1833,706,5],[1700,727,10],[1610,724,7],[1558,722,7],[1570,712,7],[1590,738,7],[1768,748,17],[1776,746,17],[1785,745,17],[1792,745,17],[1620,789,16],[1731,778,3],[1739,787,3],[1843,766,7],[1850,767,7],[1838,767,7],[1844,757,7],[1645,828,5],[1652,825,5],[1635,838,5],[1640,838,5],[1650,835,5],[1630,836,5],[1692,840,7],[1646,887,3],[1641,895,3],[1637,903,3],
[1462,518,18],[1482,514,18],[1500,522,18],[1445,565,18],[1513,570,18],[1455,590,18],[1478,592,18],[1500,585,18],[1512,550,18],[1443,218,1],[1482,220,1],[1470,246,1],[1450,245,1],[1487,240,1],[1745,432,7],[1790,430,7],[1790,488,7],[1750,488,7],[1745,470,7],[1790,445,7],[1645,684,16],[1683,686,16],[1685,660,16],[1575,560,7],[1612,562,7],[1580,600,7],[1608,595,7],[1575,740,7],[1605,738,7],[1520,645,1],[1550,670,1],[1555,650,1],[1530,672,1],[1735,612,10],[1755,655,10],[1760,625,10],[1382,735,9],[1412,740,9],[1398,742,9],[1375,722,9]
];

const seqLarge = [
[1450,232,1],[1476,232,1],[1462,224,1],[1462,238,1],[1350,282,1],[1520,322,8],[1352,349,7],[1336,358,7],[1300,498,10],
[1470,530,18],[1492,530,18],[1506,545,18],[1455,547,18],[1480,550,18],[1453,560,18],[1505,560,18],[1465,578,18],[1490,578,18],[1480,570,18],
[1345,552,7],[1332,570,7],[1537,655,1],[1532,660,1],[1545,652,1],[1470,710,8],[1390,722,9],[1402,730,9],
[1833,288,6],[1685,345,3],[1755,445,7],[1778,438,7],[1781,460,7],[1762,478,7],[1780,478,7],[1760,460,7],[1585,505,3],[1692,497,9],
[1585,575,7],[1604,575,7],[1595,590,7],[1582,590,7],[1670,582,4],[1683,582,4],[1855,590,17],[1870,590,17],[1862,598,17],[1650,668,16],[1680,672,16],[1665,682,16],[1748,625,10],[1748,640,10],[1570,725,7],[1590,725,7],[1600,723,7],[1630,780,16]
];

const dotSize = 10;
const smallSize = 10;
const midSize = 17;
const largeSize = 31;

var myChart = echarts.init(document.getElementById("main"));

// one scatter per category and mark size, later categories draw on top
function addSeries(list, points, size, axisIndex, catIndex) {
  const data = points.filter(p => p[2] === catIndex + 1).map(p => [p[0], p[1]]);
  if (data.length === 0) return;
  list.push({
    name: categories[catIndex],
    type: "scatter",
    xAxisIndex: axisIndex,
    yAxisIndex: axisIndex,
    symbol: "circle",
    symbolSize: size,
    clip: false,
    silent: true,
    itemStyle: { color: colors[catIndex], opacity: 1 },
    data: data
  });
}

var series = [];
categories.forEach((c, i) => {
  addSeries(series, cat2vecPoints, dotSize, 0, i);
  addSeries(series, seqLarge, largeSize, 1, i);
  addSeries(series, seqMid, midSize, 1, i);
  addSeries(series, seqSmall, smallSize, 1, i);
});

function hiddenAxis(min, max, gridIndex, inverse) {
  return { type: "value", min: min, max: max, gridIndex: gridIndex, inverse: inverse, show: false };
}

function legendColumn(left, names) {
  return {
    left: left,
    top: 1047,
    orient: "vertical",
    icon: "circle",
    itemWidth: 13,
    itemHeight: 13,
    itemGap: 12.3,
    selectedMode: false,
    textStyle: { fontFamily: "DejaVu Sans", fontSize: 22.4, color: "#000", padding: [0, 0, 0, 24], lineHeight: 21 },
    data: names
  };
}

var option = {
  animation: false,
  backgroundColor: "#fff",
  title: [
    { text: "UMAP embedding of Cat2Vec Encodings", left: 494, top: 14, textAlign: "center",
      textStyle: { fontFamily: "DejaVu Sans", fontWeight: "normal", fontSize: 30, color: "#000" } },
    { text: "UMAP embedding of Seq2Seq Encodings", left: 1560, top: 14, textAlign: "center",
      textStyle: { fontFamily: "DejaVu Sans", fontWeight: "normal", fontSize: 30, color: "#000" } }
  ],
  grid: [
    { left: 40, top: 70, width: 930, height: 940 },
    { left: 1100, top: 70, width: 930, height: 940 }
  ],
  xAxis: [hiddenAxis(40, 970, 0, false), hiddenAxis(1100, 2030, 1, false)],
  yAxis: [hiddenAxis(70, 1010, 0, true), hiddenAxis(70, 1010, 1, true)],
  legend: [legendColumn(86, categories.slice(0, 9)), legendColumn(1012, categories.slice(9))],
  graphic: [{
    type: "rect",
    silent: true,
    z: -1,
    shape: { x: 61, y: 1043, width: 1951, height: 314, r: 5 },
    style: { fill: "#fff", stroke: "#d5d5d5", lineWidth: 2 }
  }],
  series: series
};
option && myChart.setOption(option);
</script>
</body>
</html>
